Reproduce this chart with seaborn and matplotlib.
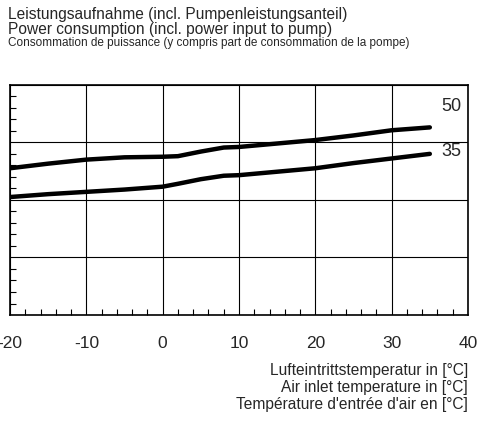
import matplotlib
matplotlib.use("Agg")
import matplotlib.pyplot as plt
from matplotlib.ticker import MultipleLocator
import seaborn as sns
import pandas as pd

# Werte
temps = [-20, -15, -10, -5, 0, 2, 5, 8, 10, 15, 20, 25, 30, 35]
power_50 = [2.55, 2.63, 2.70, 2.74, 2.75, 2.76, 2.84, 2.91, 2.92, 2.98, 3.04, 3.12, 3.21, 3.26]
power_35 = [2.05, 2.10, 2.14, 2.18, 2.23, 2.28, 2.36, 2.42, 2.43, 2.49, 2.55, 2.64, 2.72, 2.80]
curve_labels = ["50", "35"]
x_ticks = [-20, -10, 0, 10, 20, 30, 40]

data = pd.DataFrame({
    "Temp": temps * 2,
    "Power": power_50 + power_35,
    "Curve": [curve_labels[0]] * len(temps) + [curve_labels[1]] * len(temps),
})

sns.set_style("white")
plt.rcParams["font.family"] = ["Liberation Sans", "DejaVu Sans"]

fig = plt.figure(figsize=(4.8, 4.24), dpi=100)
ax = fig.add_axes([0.0208, 0.257, 0.9542, 0.543])

sns.lineplot(data=data, x="Temp", y="Power", hue="Curve",
             palette=["black", "black"], linewidth=3.2, legend=False, ax=ax,
             solid_capstyle="round")

ax.set_xlim(-20, 40)
ax.set_ylim(0, 4)
ax.set_xticks(x_ticks)
ax.set_xticklabels([str(t) for t in x_ticks], fontsize=12.5)
ax.yaxis.set_major_locator(MultipleLocator(1))
ax.xaxis.set_minor_locator(MultipleLocator(2))
ax.yaxis.set_minor_locator(MultipleLocator(0.2))
ax.set_yticklabels([])
ax.tick_params(axis="both", which="major", length=0, pad=15)
ax.tick_params(axis="both", which="minor", direction="in", length=4,
               width=0.8, color="black", bottom=True, left=True)
ax.grid(True, which="major", color="black", linewidth=0.8)
for s in ax.spines.values():
    s.set_color("black")
    s.set_linewidth(1.2)
ax.set_xlabel("")
ax.set_ylabel("")

# Kurvenbeschriftung
ax.text(39.1, 3.63, curve_labels[0], ha="right", va="center", fontsize=13)
ax.text(39.1, 2.84, curve_labels[1], ha="right", va="center", fontsize=13)

# Titel
fig.text(0.017, 0.965, "Leistungsaufnahme (incl. Pumpenleistungsanteil)", fontsize=11.2, va="center")
fig.text(0.017, 0.930, "Power consumption (incl. power input to pump)", fontsize=11.2, va="center")
fig.text(0.017, 0.898, "Consommation de puissance (y compris part de consommation de la pompe)",
         fontsize=8.5, va="center")

# Achsenbeschriftung
fig.text(0.975, 0.125, "Lufteintrittstemperatur in [°C]", fontsize=11.2, ha="right", va="center")
fig.text(0.975, 0.086, "Air inlet temperature in [°C]", fontsize=11.2, ha="right", va="center")
fig.text(0.975, 0.047, "Température d'entrée d'air en [°C]", fontsize=11.2, ha="right", va="center")

fig.savefig("out.png", dpi=100)
